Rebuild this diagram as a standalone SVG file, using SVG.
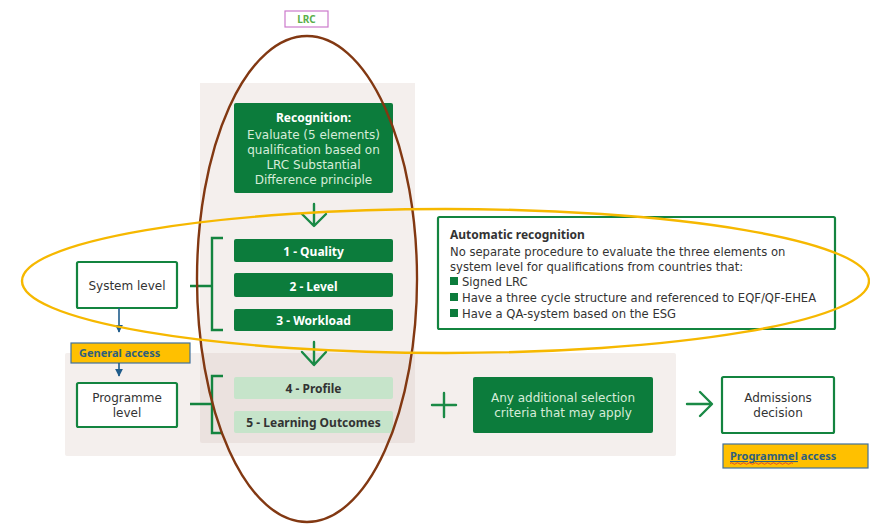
<svg xmlns="http://www.w3.org/2000/svg" width="870" height="524" viewBox="0 0 870 524">
  <style>
    text { font-family: "Noto Sans", "Liberation Sans", sans-serif; }
    .body { font-family: "DejaVu Sans", "Noto Sans", sans-serif; }
    .panel { fill: #f4efed; }
    .panel-dark { fill: #ebe2df; }
    .green { fill: #0c7c3c; }
    .pale { fill: #c6e4ca; }
    .outline { fill: #ffffff; stroke: #13843f; stroke-width: 2.2; }
    .tag { fill: #ffc000; stroke: #41719c; stroke-width: 1.2; }
    .w { fill: #ffffff; font-size: 12px; }
    .wl { fill: #d6ecd9; font-size: 12px; }
    .bold { font-weight: bold; }
    .dk { fill: #333333; font-size: 12px; }
    .small { font-size: 11.6px; }
    .tagtxt { fill: #2e5f7e; font-size: 11px; font-weight: bold; }
    .glyph { fill: none; stroke: #1a8a46; stroke-width: 2.4; stroke-linecap: round; stroke-linejoin: round; }
    .bracket { fill: none; stroke: #13843f; stroke-width: 2.4; }
    .blue { stroke: #1f5c8b; stroke-width: 1.6; fill: none; }
    .lrcring { fill: none; stroke: #823812; stroke-width: 2.4; }
    .autoring { fill: none; stroke: #f6b800; stroke-width: 2.4; }
  </style>
  <defs>
    <marker id="blueHead" viewBox="0 0 10 10" refX="9" refY="5" markerWidth="5" markerHeight="5" orient="auto">
      <path d="M0,0 L10,5 L0,10 z" fill="#1f5c8b"/>
    </marker>
  </defs>

  <!-- background panels -->
  <g id="panels">
    <rect class="panel" x="200" y="83" width="215" height="272"/>
    <rect class="panel" x="65" y="353" width="611" height="103" rx="2"/>
    <rect class="panel-dark" x="200" y="353" width="215" height="90" rx="2"/>
  </g>

  <g id="lrc-label">
    <rect x="285" y="11" width="43" height="16" fill="#ffffff" stroke="#cc7acc" stroke-width="1.2"/>
    <text x="306.5" y="23" text-anchor="middle" font-size="10" font-weight="bold" fill="#5aae4a">LRC</text>
  </g>

  <g id="recognition">
    <rect class="green" x="234" y="103" width="159" height="90" rx="2"/>
    <text class="w bold" x="313.5" y="122" text-anchor="middle">Recognition:</text>
    <text class="wl body" x="313.5" y="139" text-anchor="middle">Evaluate (5 elements)</text>
    <text class="wl body" x="313.5" y="154" text-anchor="middle">qualification based on</text>
    <text class="wl body" x="313.5" y="169" text-anchor="middle">LRC Substantial</text>
    <text class="wl body" x="313.5" y="184" text-anchor="middle">Difference principle</text>
  </g>

  <g id="quality">
    <rect class="green" x="234" y="239" width="159" height="23" rx="2"/>
    <text class="w bold" x="313.5" y="256" text-anchor="middle">1 - Quality</text>
  </g>
  <g id="level">
    <rect class="green" x="234" y="273" width="159" height="24" rx="2"/>
    <text class="w bold" x="313.5" y="291" text-anchor="middle">2 - Level</text>
  </g>
  <g id="workload">
    <rect class="green" x="234" y="309" width="159" height="22" rx="2"/>
    <text class="w bold" x="313.5" y="325" text-anchor="middle">3 - Workload</text>
  </g>

  <g id="profile">
    <rect class="pale" x="234" y="377" width="159" height="22" rx="2"/>
    <text class="dk bold" x="313.5" y="393" text-anchor="middle" fill="#222222">4 - Profile</text>
  </g>
  <g id="learning-outcomes">
    <rect class="pale" x="234" y="411" width="159" height="22" rx="2"/>
    <text class="dk bold" x="313.5" y="427" text-anchor="middle" fill="#222222">5 - Learning Outcomes</text>
  </g>

  <g id="system-level">
    <rect class="outline" x="77" y="262" width="100" height="46" rx="1.5"/>
    <text class="dk body" x="127" y="289.5" text-anchor="middle">System level</text>
  </g>

  <g id="general-access">
    <rect class="tag" x="71" y="343" width="119" height="20"/>
    <text class="tagtxt" x="79" y="357">General access</text>
  </g>

  <g id="programme-level">
    <rect class="outline" x="77" y="383" width="100" height="44" rx="1.5"/>
    <text class="dk body" x="127" y="402" text-anchor="middle">Programme</text>
    <text class="dk body" x="127" y="417" text-anchor="middle">level</text>
  </g>

  <g id="automatic-recognition">
    <rect class="outline" x="438" y="217" width="397" height="112" rx="1.5"/>
    <text class="dk bold" x="450" y="239" fill="#222222">Automatic recognition</text>
    <text class="dk body small" x="450" y="256">No separate procedure to evaluate the three elements on</text>
    <text class="dk body small" x="450" y="270.5">system level for qualifications from countries that:</text>
    <rect class="green" x="450" y="277" width="8" height="8"/>
    <text class="dk body small" x="462" y="285.5">Signed LRC</text>
    <rect class="green" x="450" y="293" width="8" height="8"/>
    <text class="dk body small" x="462" y="301.5">Have a three cycle structure and referenced to EQF/QF-EHEA</text>
    <rect class="green" x="450" y="309" width="8" height="8"/>
    <text class="dk body small" x="462" y="317.5">Have a QA-system based on the ESG</text>
  </g>

  <g id="selection-criteria">
    <rect class="green" x="473" y="377" width="180" height="56" rx="2"/>
    <text class="wl body" x="563" y="402" text-anchor="middle">Any additional selection</text>
    <text class="wl body" x="563" y="417" text-anchor="middle">criteria that may apply</text>
  </g>

  <g id="admissions-decision">
    <rect class="outline" x="722" y="377" width="112" height="56" rx="1.5"/>
    <text class="dk body" x="778" y="402" text-anchor="middle">Admissions</text>
    <text class="dk body" x="778" y="417" text-anchor="middle">decision</text>
  </g>

  <g id="programme-access">
    <rect class="tag" x="723" y="444" width="145" height="24"/>
    <text class="tagtxt" x="730" y="460"><tspan text-decoration="underline">Programmel</tspan> access</text>
    <!-- spell-check squiggle under the first word -->
    <path d="M730,463.5 q1.5,-1.5 3,0 t3,0 t3,0 t3,0 t3,0 t3,0 t3,0 t3,0 t3,0 t3,0 t3,0 t3,0 t3,0 t3,0 t3,0 t3,0 t3,0 t3,0 t3,0 t3,0 t3,0" fill="none" stroke="#e0302a" stroke-width="0.8"/>
  </g>

  <g id="connectors">
    <!-- brackets joining the level boxes to their elements -->
    <path class="bracket" d="M190,286 H212 M223,238 H212 V330 H223"/>
    <path class="bracket" d="M190,404 H212 M223,376 H212 V433 H223"/>
    <!-- flow arrows -->
    <path class="glyph" d="M314,204 V225 M302,214 L314,226 L326,214"/>
    <path class="glyph" d="M314,342 V364 M302,352 L314,365 L326,352"/>
    <path class="glyph" d="M687,404 H711 M700,392 L712,404 L700,416"/>
    <path class="glyph" d="M432,405 H456 M444,393 V417"/>
    <!-- access steps -->
    <line class="blue" x1="119" y1="308" x2="119" y2="332" marker-end="url(#blueHead)"/>
    <line class="blue" x1="119" y1="363" x2="119" y2="376" marker-end="url(#blueHead)"/>
  </g>

  <g id="highlight-rings">
    <ellipse class="lrcring" cx="307" cy="279" rx="110" ry="243"/>
    <ellipse class="autoring" cx="445.5" cy="281" rx="423.5" ry="72"/>
  </g>
</svg>
